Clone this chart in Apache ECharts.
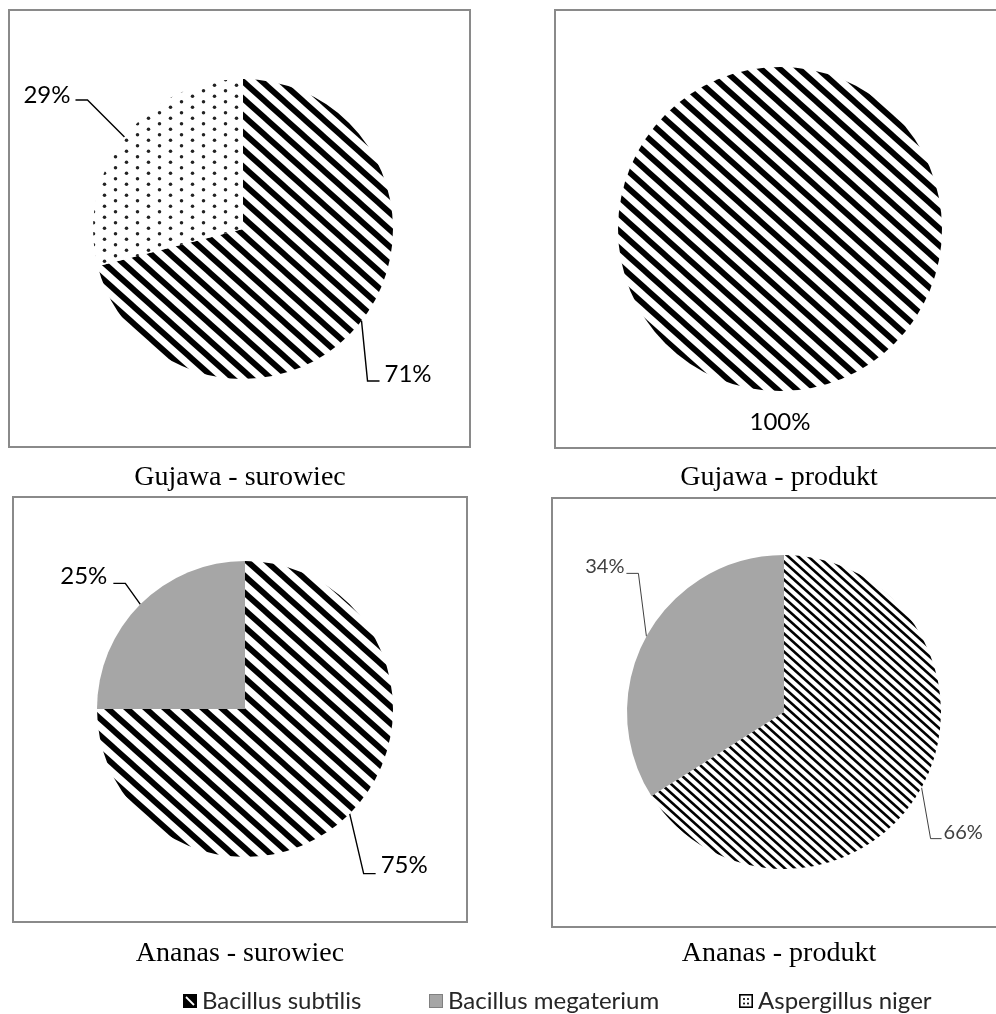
<!DOCTYPE html>
<html>
<head>
<meta charset="utf-8">
<script src="https://cdn.jsdelivr.net/npm/echarts@6.0.0/dist/echarts.min.js"></script>
<style>
  html, body { margin: 0; padding: 0; background: #fff; }
  #chart { width: 996px; height: 1014px; }
</style>
</head>
<body>
<div id="chart"></div>
<script>
// Microorganism shares (%) found in guava and pineapple, raw material vs. product
const categories = ['Bacillus subtilis', 'Bacillus megaterium', 'Aspergillus niger'];
const panelTitles = ['Gujawa - surowiec', 'Gujawa - produkt', 'Ananas - surowiec', 'Ananas - produkt'];
const gujawaSurowiec = [71, 0, 29];
const gujawaProdukt = [100, 0, 0];
const ananasSurowiec = [75, 25, 0];
const ananasProdukt = [66, 34, 0];

// ---- fill patterns ----
function stripeTile(w, h, lineW) {
  const c = document.createElement('canvas');
  c.width = w; c.height = h;
  const g = c.getContext('2d');
  g.fillStyle = '#fff';
  g.fillRect(0, 0, w, h);
  g.strokeStyle = '#000';
  g.lineWidth = lineW;
  for (let k = -1; k <= 1; k++) {
    g.beginPath();
    g.moveTo(k * w - w, -h);
    g.lineTo(k * w + 2 * w, 2 * h);
    g.stroke();
  }
  return c;
}
function dotTile() {
  const c = document.createElement('canvas');
  c.width = 22; c.height = 11;
  const g = c.getContext('2d');
  g.fillStyle = '#fff';
  g.fillRect(0, 0, 22, 11);
  g.fillStyle = '#222';
  [[5.5, 2.75], [16.5, 8.25]].forEach(function (d) {
    g.beginPath();
    g.arc(d[0], d[1], 1.75, 0, Math.PI * 2);
    g.fill();
  });
  return c;
}
const wideStripes = { image: stripeTile(19, 17, 5.8), repeat: 'repeat' };
const fineStripes = { image: stripeTile(10, 9, 2.6), repeat: 'repeat' };
const dots = { image: dotTile(), repeat: 'repeat' };
const grey = '#a6a6a6';

// ---- legend icons ----
function iconURL(draw) {
  const c = document.createElement('canvas');
  c.width = 14; c.height = 14;
  const g = c.getContext('2d');
  draw(g);
  return 'image://' + c.toDataURL();
}
const legendIcons = [
  iconURL(function (g) {
    g.fillStyle = '#000'; g.fillRect(0, 0, 14, 14);
    g.strokeStyle = '#fff'; g.lineWidth = 1.8;
    g.beginPath(); g.moveTo(3, 3); g.lineTo(11, 11); g.stroke();
  }),
  iconURL(function (g) {
    g.fillStyle = grey; g.fillRect(0, 0, 14, 14);
    g.strokeStyle = '#808080'; g.lineWidth = 1; g.strokeRect(0.5, 0.5, 13, 13);
  }),
  iconURL(function (g) {
    g.fillStyle = '#fff'; g.fillRect(0, 0, 14, 14);
    g.strokeStyle = '#000'; g.lineWidth = 1.6; g.strokeRect(0.8, 0.8, 12.4, 12.4);
    g.fillStyle = '#000';
    [[5, 5], [9, 5], [5, 9.5], [9, 9.5]].forEach(function (d) { g.fillRect(d[0] - 0.9, d[1] - 0.9, 1.8, 1.8); });
  })
];
const legendLeft = [178, 424, 734];

// ---- panel layout ----
const panels = [
  {
    values: gujawaSurowiec, fills: [wideStripes, grey, dots],
    center: [243, 229], radius: 150, box: [9, 10, 461, 437], titleAt: [240, 464],
    label: { fontSize: 24, color: '#000' }, line: { color: '#000', width: 1.4 },
    guides: {
      'Aspergillus niger': { elbow: [-37, -37], tail: -12, gap: 5, dy: -5 },
      'Bacillus subtilis': { elbow: [6, 60], tail: 12, gap: 5, dy: -7 }
    }
  },
  {
    values: gujawaProdukt, fills: [wideStripes, grey, dots],
    center: [780, 229], radius: 162, box: [555, 10, 450, 438], titleAt: [779, 464],
    label: { fontSize: 24, color: '#000' }, line: { color: '#000', width: 1.4 },
    guides: { 'Bacillus subtilis': { below: 31 } }
  },
  {
    values: ananasSurowiec, fills: [wideStripes, grey, dots],
    center: [245, 709], radius: 148, box: [13, 497, 454, 425], titleAt: [240, 940],
    label: { fontSize: 24, color: '#000' }, line: { color: '#000', width: 1.4 },
    guides: {
      'Bacillus megaterium': { elbow: [-15, -21], tail: -12, gap: 6, dy: -7 },
      'Bacillus subtilis': { elbow: [14, 60], tail: 12, gap: 5, dy: -8 }
    }
  },
  {
    values: ananasProdukt, fills: [fineStripes, grey, dots],
    center: [784, 712], radius: 157, box: [552, 498, 450, 429], titleAt: [779, 940],
    label: { fontSize: 20, color: '#404040' }, line: { color: '#404040', width: 1 },
    guides: {
      'Bacillus megaterium': { elbow: [-8, -63], tail: -12, gap: 2, dy: -7 },
      'Bacillus subtilis': { elbow: [9, 51], tail: 11, gap: 2, dy: -6 }
    }
  }
];

function makeLayout(items, guides) {
  return function (p) {
    const g = guides[items[p.dataIndex].name];
    if (!g) return {};
    if (g.below != null) {
      return {
        x: p.rect.x + p.rect.width / 2,
        y: p.rect.y + p.rect.height + g.below,
        align: 'center', verticalAlign: 'middle'
      };
    }
    const a = p.labelLinePoints[0];
    const elbow = [a[0] + g.elbow[0], a[1] + g.elbow[1]];
    const end = [elbow[0] + g.tail, elbow[1]];
    const toRight = g.tail > 0;
    return {
      x: end[0] + (toRight ? g.gap : -g.gap),
      y: end[1] + g.dy,
      align: toRight ? 'left' : 'right',
      verticalAlign: 'middle',
      labelLinePoints: [a, elbow, end]
    };
  };
}

const series = panels.map(function (pn) {
  const items = [];
  categories.forEach(function (name, i) {
    if (pn.values[i] > 0) {
      items.push({ name: name, value: pn.values[i], itemStyle: { color: pn.fills[i] } });
    }
  });
  const single = items.length === 1;
  return {
    type: 'pie',
    center: pn.center,
    radius: pn.radius,
    startAngle: 90,
    clockwise: true,
    avoidLabelOverlap: false,
    silent: true,
    emphasis: { disabled: true },
    itemStyle: { borderWidth: 0 },
    label: {
      show: true, position: 'outside', formatter: '{c}%',
      fontFamily: 'Lato, "Open Sans", sans-serif',
      fontSize: pn.label.fontSize, color: pn.label.color
    },
    labelLine: {
      show: !single, length: 20, length2: 10,
      lineStyle: { color: pn.line.color, width: pn.line.width }
    },
    labelLayout: makeLayout(items, pn.guides),
    data: items
  };
});

const chart = echarts.init(document.getElementById('chart'), null, { renderer: 'canvas' });
chart.setOption({
  backgroundColor: '#fff',
  animation: false,
  title: panels.map(function (pn, i) {
    return {
      text: panelTitles[i],
      left: pn.titleAt[0], top: pn.titleAt[1], textAlign: 'center', padding: 0,
      textStyle: { fontFamily: '"Liberation Serif", "Times New Roman", serif', fontWeight: 'normal', fontSize: 28, color: '#000' }
    };
  }),
  legend: legendLeft.map(function (x, i) {
    return {
      data: [{ name: categories[i], icon: legendIcons[i] }],
      left: x, top: 984,
      itemWidth: 14, itemHeight: 14, itemGap: 0,
      selectedMode: false,
      textStyle: { fontFamily: 'Lato, "Open Sans", sans-serif', fontSize: 24, color: '#262626' }
    };
  }),
  graphic: panels.map(function (pn) {
    return {
      type: 'rect', silent: true, z: -1,
      shape: { x: pn.box[0], y: pn.box[1], width: pn.box[2], height: pn.box[3] },
      style: { fill: null, stroke: '#8a8a8a', lineWidth: 2 }
    };
  }),
  series: series
});
</script>
</body>
</html>
